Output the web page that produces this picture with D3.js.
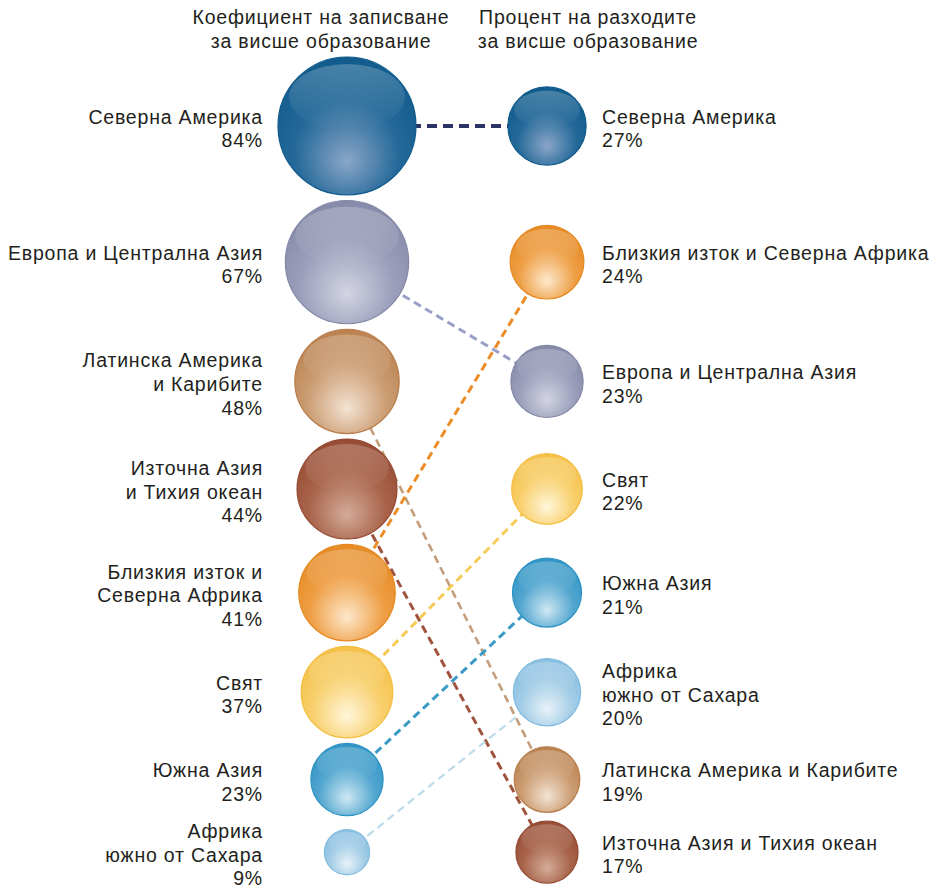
<!DOCTYPE html>
<html>
<head>
<meta charset="utf-8">
<script src="https://cdn.jsdelivr.net/npm/d3@7"></script>
<style>
  body { margin: 0; background: #fff; }
  text { font-family: "Liberation Sans", Arial, sans-serif; fill: #231f20; letter-spacing: 0.8px; }
</style>
</head>
<body>
<svg id="chart" width="936" height="886"></svg>
<script>
// regions in order of enrollment
const regions = ['na', 'eca', 'lac', 'eap', 'mena', 'world', 'sa', 'ssa'];
const enrollment = [84, 67, 48, 44, 41, 37, 23, 9];
const spending = [27, 23, 19, 17, 24, 22, 21, 20];
const leftLabels = [
  ['Северна Америка'],
  ['Европа и Централна Азия'],
  ['Латинска Америка', 'и Карибите'],
  ['Източна Азия', 'и Тихия океан'],
  ['Близкия изток и', 'Северна Африка'],
  ['Свят'],
  ['Южна Азия'],
  ['Африка', 'южно от Сахара']
];
const rightLabels = [
  ['Северна Америка'],
  ['Европа и Централна Азия'],
  ['Латинска Америка и Карибите'],
  ['Източна Азия и Тихия океан'],
  ['Близкия изток и Северна Африка'],
  ['Свят'],
  ['Южна Азия'],
  ['Африка', 'южно от Сахара']
];
const columnTitles = [
  ['Коефициент на записване', 'за висше образование'],
  ['Процент на разходите', 'за висше образование']
];
// [edge, mid, light]
const regionColors = [
  ['#0e5a8b', '#236898', '#8aa6c8'],
  ['#8387a6', '#9a9eba', '#d3d5e3'],
  ['#b87d4a', '#cb9c72', '#f3e3d3'],
  ['#944830', '#a8644a', '#d4ab9a'],
  ['#e58820', '#ee9e44', '#fde8cc'],
  ['#f4be40', '#f8cf6c', '#fff6db'],
  ['#2c92c3', '#52a6cf', '#cfe8f3'],
  ['#82bce0', '#a2cce6', '#e8f3f9']
];
const lineColors = ['#2c3465', '#9a9fc8', '#c49e7c', '#a0533c', '#ec8c26', '#f7cb58', '#3c9bc6', '#bcdbeb'];

const svg = d3.select('#chart');
const defs = svg.append('defs');

const rows = regions.map((key, i) => ({
  key, i,
  enroll: enrollment[i],
  spend: spending[i],
  left: leftLabels[i],
  right: rightLabels[i],
  colors: regionColors[i],
  line: lineColors[i]
}));

const rightOrder = rows.slice().sort((a, b) => b.spend - a.spend);
rightOrder.forEach((d, j) => { d.rightRow = j; });

const r = d3.scaleSqrt().domain([0, 84]).range([0, 69]);
const col = d3.scalePoint().domain(['enroll', 'spend']).range([347, 547]);

// stack the rows: each row is as tall as its largest circle
const gap = 5.5;
const rowR = rows.map((d, i) => Math.max(r(d.enroll), r(rightOrder[i].spend)));
const rowY = [];
rowR.forEach((rr, i) => {
  rowY.push(i === 0 ? 57 + rr : rowY[i - 1] + rowR[i - 1] + rr + gap);
});

// gradients
rows.forEach(d => {
  const g = defs.append('radialGradient')
    .attr('id', 'ball-' + d.key)
    .attr('cx', '50%').attr('cy', '66%').attr('r', '70%')
    .attr('fx', '50%').attr('fy', '76%');
  g.append('stop').attr('offset', '0%').attr('stop-color', d.colors[2]);
  g.append('stop').attr('offset', '55%').attr('stop-color', d.colors[1]);
  g.append('stop').attr('offset', '100%').attr('stop-color', d.colors[0]);
});
const gloss = defs.append('linearGradient')
  .attr('id', 'gloss').attr('x1', 0).attr('y1', 0).attr('x2', 0).attr('y2', 1);
gloss.append('stop').attr('offset', '0%').attr('stop-color', '#fff').attr('stop-opacity', 0.22);
gloss.append('stop').attr('offset', '100%').attr('stop-color', '#fff').attr('stop-opacity', 0.0);

// connecting lines
svg.append('g').attr('class', 'links')
  .selectAll('line')
  .data(rows)
  .join('line')
  .attr('x1', col('enroll'))
  .attr('y1', d => rowY[d.i])
  .attr('x2', col('spend'))
  .attr('y2', d => rowY[d.rightRow])
  .attr('stroke', d => d.line)
  .attr('stroke-width', d => d.key === 'na' ? 4 : d.key === 'ssa' ? 2.2 : d.key === 'lac' ? 2.6 : 3)
  .attr('stroke-dasharray', d => d.key === 'na' ? '10,6' : '8,5');

function drawBall(sel, cx, cy, rad) {
  sel.append('circle')
    .attr('cx', cx).attr('cy', cy).attr('r', rad)
    .attr('fill', d => 'url(#ball-' + d.key + ')')
    .attr('stroke', d => d.colors[0])
    .attr('stroke-width', 1.2);
  sel.append('ellipse')
    .attr('cx', cx)
    .attr('cy', d => cy(d) - rad(d) * 0.42)
    .attr('rx', d => rad(d) * 0.84)
    .attr('ry', d => rad(d) * 0.48)
    .attr('fill', 'url(#gloss)');
}

const leftBalls = svg.append('g').selectAll('g').data(rows).join('g');
drawBall(leftBalls, col('enroll'), d => rowY[d.i], d => r(d.enroll));

const rightBalls = svg.append('g').selectAll('g').data(rows).join('g');
drawBall(rightBalls, col('spend'), d => rowY[d.rightRow], d => r(d.spend));

const lineH = 23.6;
function labelBlock(sel, x, anchor, yOf, linesOf) {
  sel.each(function(d) {
    const lines = linesOf(d);
    const t = d3.select(this).append('text')
      .attr('x', x)
      .attr('text-anchor', anchor)
      .attr('font-size', 19.5);
    const y0 = yOf(d) + 2.5 - (lines.length - 1) * lineH / 2;
    lines.forEach((s, k) => {
      t.append('tspan')
        .attr('x', x)
        .attr('y', y0 + k * lineH)
        .attr('dominant-baseline', 'central')
        .text(s);
    });
  });
}

const leftText = svg.append('g').selectAll('g').data(rows).join('g');
labelBlock(leftText, 263, 'end', d => rowY[d.i], d => d.left.concat([d.enroll + '%']));

const rightText = svg.append('g').selectAll('g').data(rows).join('g');
labelBlock(rightText, 602, 'start', d => rowY[d.rightRow], d => d.right.concat([d.spend + '%']));

// column titles
const titleX = [col('enroll') - 26, col('spend') + 41];
svg.append('g').selectAll('text')
  .data(columnTitles)
  .join('text')
  .attr('text-anchor', 'middle')
  .attr('font-size', 19.5)
  .each(function(lines, i) {
    lines.forEach((s, k) => {
      d3.select(this).append('tspan')
        .attr('x', titleX[i])
        .attr('y', 17 + k * 23.5)
        .attr('dominant-baseline', 'central')
        .text(s);
    });
  });
</script>
</body>
</html>
